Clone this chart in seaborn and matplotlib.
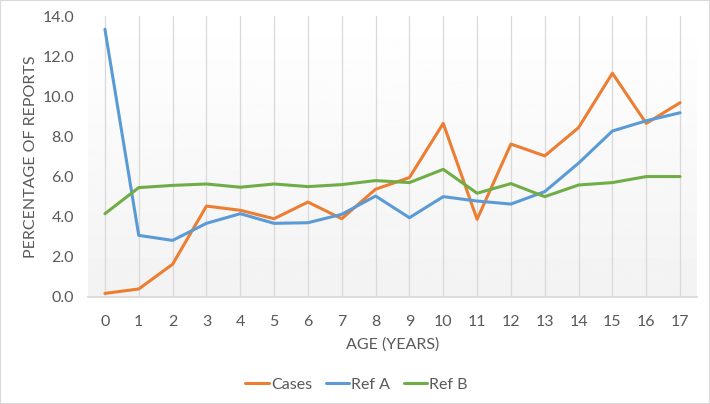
import seaborn as sns
import matplotlib.pyplot as plt
import pandas as pd
import numpy as np
from matplotlib.ticker import FormatStrFormatter

# Data
ages = list(range(18))
cases = [0.18, 0.4, 1.63, 4.53, 4.32, 3.9, 4.73, 3.9, 5.37, 5.95, 8.65, 3.87,
         7.62, 7.03, 8.44, 11.15, 8.65, 9.68]
ref_a = [13.34, 3.07, 2.82, 3.67, 4.15, 3.67, 3.7, 4.12, 5.03, 3.95, 5.0, 4.78,
         4.63, 5.25, 6.67, 8.27, 8.78, 9.18]
ref_b = [4.15, 5.45, 5.56, 5.63, 5.47, 5.63, 5.5, 5.6, 5.8, 5.7, 6.36, 5.17,
         5.65, 5.0, 5.58, 5.7, 6.0, 6.0]
series_names = ['Cases', 'Ref A', 'Ref B']
colors = ['#ED7D31', '#5B9BD5', '#70AD47']

df = pd.concat([
    pd.DataFrame({'Age': ages, 'Value': vals, 'Series': name})
    for name, vals in zip(series_names, [cases, ref_a, ref_b])
])

sns.set_theme(style='white')
plt.rcParams['font.family'] = ['Lato', 'DejaVu Sans']
text_col = '#595959'

fig = plt.figure(figsize=(7.1, 4.04), dpi=100)
ax = fig.add_axes([88 / 710, 1 - 297 / 404, (697 - 88) / 710, (297 - 16) / 404])

# gradient plot-area fill (white at top, light grey at bottom)
grad = np.linspace(1.0, 0.95, 256).reshape(-1, 1)
ax.imshow(grad, extent=[0, 1, 0, 1], transform=ax.transAxes, aspect='auto',
          cmap='gray', vmin=0, vmax=1, zorder=0)

sns.lineplot(data=df, x='Age', y='Value', hue='Series', palette=colors,
             linewidth=2.2, ax=ax, zorder=3)

ax.set_xlim(-0.5, 17.5)
ax.set_ylim(0, 14)
ax.set_xticks(ages)
ax.set_yticks(np.arange(0, 15, 2))
ax.yaxis.set_major_formatter(FormatStrFormatter('%.1f'))
ax.xaxis.grid(True, color='#d9d9d9', linewidth=0.9, zorder=1)
ax.yaxis.grid(False)
ax.set_axisbelow(True)
for s in ['top', 'right', 'left']:
    ax.spines[s].set_visible(False)
ax.spines['bottom'].set_color('#d9d9d9')
ax.tick_params(axis='both', colors=text_col, labelsize=11.5, length=0)
ax.tick_params(axis='x', pad=13)
ax.tick_params(axis='y', pad=10)

ax.set_xlabel('AGE (YEARS)', color=text_col, fontsize=11.5, labelpad=6)
ax.set_ylabel('PERCENTAGE OF REPORTS', color=text_col, fontsize=11.5, labelpad=3)

ax.legend(loc='upper center', bbox_to_anchor=(0.441, -0.235), ncol=3,
          frameon=False, fontsize=11.5, labelcolor=text_col, handlelength=1.45,
          handletextpad=0.15, columnspacing=0.85)

fig.patches.append(plt.Rectangle((0, 0), 1, 1, transform=fig.transFigure,
                                 fill=False, edgecolor='#d9d9d9', linewidth=1.5))

fig.savefig('out.png', dpi=100)
